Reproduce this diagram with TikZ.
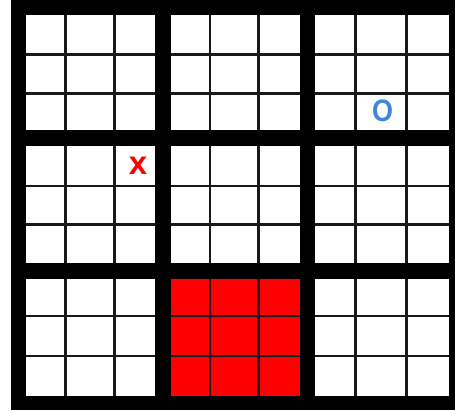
\documentclass[tikz,border=0pt]{standalone}
\usepackage{fontspec}
\setmainfont{Liberation Sans}
\definecolor{oblue}{RGB}{66,133,222}
\begin{document}
\begin{tikzpicture}[x=1pt,y=-1pt,
  gridline/.style={line width=2.1pt, draw=black!90},
  mark x/.style={text=red, font=\bfseries\fontsize{33}{33}\selectfont, inner sep=0pt},
  mark o/.style={text=oblue, font=\bfseries\fontsize{31}{31}\selectfont, inner sep=0pt, xscale=0.87}]
\useasboundingbox (0,0) rectangle (455,410);
\fill[white] (0,0) rectangle (455,410);
\fill[black] (11,0) rectangle (455,410);
\foreach \xa/\xb/\xc/\xd in {26/65.5/114.5/155, 171/210/258.5/300, 315/355.5/406.5/449}{
  \foreach \ya/\yb/\yc/\yd in {15/54.5/93.5/130, 146/186/224.5/263, 279/316/356/396}{
    \fill[white] (\xa,\ya) rectangle (\xd,\yd);
    \draw[gridline] (\xb,\ya) -- (\xb,\yd) (\xc,\ya) -- (\xc,\yd)
                    (\xa,\yb) -- (\xd,\yb) (\xa,\yc) -- (\xd,\yc);
  }
}
\fill[red] (171,279) rectangle (300,396);
\draw[gridline] (210,279) -- (210,396) (258.5,279) -- (258.5,396)
                (171,316) -- (300,316) (171,356) -- (300,356);
\node[mark x] (xmark) at (138,165.5) {x};
\node[mark o] (omark) at (382.5,110.5) {O};
\end{tikzpicture}
\end{document}
